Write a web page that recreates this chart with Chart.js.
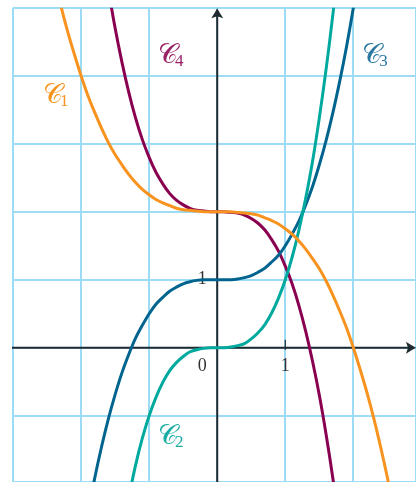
<!DOCTYPE html>
<html>
<head>
<meta charset="utf-8">
<script src="https://cdn.jsdelivr.net/npm/chart.js@4/dist/chart.umd.min.js"></script>
<style>
html,body{margin:0;padding:0;background:#fff;}
#wrap{width:416px;height:482px;}
</style>
</head>
<body>
<div id="wrap"><canvas id="c" width="416" height="482"></canvas></div>
<script>
// ---- data ----
const xC1 = [-2.4,-2.3,-2.2,-2.1,-2.0,-1.9,-1.8,-1.7,-1.6,-1.5,-1.4,-1.3,-1.2,-1.1,-1.0,-0.9,-0.8,-0.7,-0.6,-0.5,-0.4,-0.3,-0.2,-0.1,0,0.1,0.2,0.3,0.4,0.5,0.6,0.7,0.8,0.9,1.0,1.1,1.2,1.3,1.4,1.5,1.6,1.7,1.8,1.9,2.0,2.1,2.2,2.3,2.4,2.5,2.6];
const yC1 = [5.46,5.04,4.66,4.32,4.00,3.71,3.46,3.23,3.02,2.84,2.69,2.55,2.43,2.33,2.25,2.18,2.13,2.09,2.05,2.03,2.02,2.01,2.00,2.00,2.00,2.00,2.00,1.99,1.98,1.97,1.95,1.91,1.87,1.82,1.75,1.67,1.57,1.45,1.31,1.16,0.98,0.77,0.54,0.29,0.00,-0.32,-0.66,-1.04,-1.46,-1.91,-2.39];

const xC2 = [-1.3,-1.2,-1.1,-1.0,-0.9,-0.8,-0.7,-0.6,-0.5,-0.4,-0.3,-0.2,-0.1,0,0.1,0.2,0.3,0.4,0.5,0.6,0.7,0.8,0.9,1.0,1.1,1.2,1.3,1.4,1.5,1.6,1.7,1.8];
const yC2 = [-2.20,-1.73,-1.33,-1.00,-0.73,-0.51,-0.34,-0.22,-0.13,-0.06,-0.03,-0.01,0.00,0.00,0.00,0.01,0.03,0.06,0.13,0.22,0.34,0.51,0.73,1.00,1.33,1.73,2.20,2.74,3.38,4.10,4.91,5.83];

const xC3 = [-1.9,-1.8,-1.7,-1.6,-1.5,-1.4,-1.3,-1.2,-1.1,-1.0,-0.9,-0.8,-0.7,-0.6,-0.5,-0.4,-0.3,-0.2,-0.1,0,0.1,0.2,0.3,0.4,0.5,0.6,0.7,0.8,0.9,1.0,1.1,1.2,1.3,1.4,1.5,1.6,1.7,1.8,1.9,2.0,2.1];
const yC3 = [-2.43,-1.92,-1.46,-1.05,-0.69,-0.37,-0.10,0.14,0.33,0.50,0.64,0.74,0.83,0.89,0.94,0.97,0.99,1.00,1.00,1.00,1.00,1.00,1.01,1.03,1.06,1.11,1.17,1.26,1.36,1.50,1.67,1.86,2.10,2.37,2.69,3.05,3.46,3.92,4.43,5.00,5.63];

const xC4 = [-1.7,-1.6,-1.5,-1.4,-1.3,-1.2,-1.1,-1.0,-0.9,-0.8,-0.7,-0.6,-0.5,-0.4,-0.3,-0.2,-0.1,0,0.1,0.2,0.3,0.4,0.5,0.6,0.7,0.8,0.9,1.0,1.1,1.2,1.3,1.4,1.5,1.6,1.7,1.8];
const yC4 = [5.93,5.28,4.70,4.20,3.76,3.38,3.06,2.80,2.58,2.41,2.27,2.17,2.10,2.05,2.02,2.01,2.00,2.00,2.00,1.99,1.98,1.95,1.90,1.83,1.73,1.59,1.42,1.20,0.94,0.62,0.24,-0.20,-0.70,-1.28,-1.93,-2.67];

const curveNames = ['1','2','3','4'];
const labelX = [-2.37,-0.68,2.32,-0.68];
const labelY = [3.72,-1.30,4.30,4.30];
const tickLabelsX = ['0','1'];
const tickLabelsY = ['1'];

// ---- styles ----
const colors = ['#F7931E','#00A99D','#00648F','#8A0050'];
const labelColors = ['#F7931E','#1AADA3','#2A78A0','#9A2065'];
const gridColor = '#9CDCF4';
const axisColor = '#1F2A30';

function pts(xs, ys){ return xs.map((x,i)=>({x:x,y:ys[i]})); }

const datasets = [
  {data: pts(xC1,yC1)},
  {data: pts(xC2,yC2)},
  {data: pts(xC3,yC3)},
  {data: pts(xC4,yC4)}
].map((d,i)=>Object.assign(d,{
  showLine:true, borderColor:colors[i], borderWidth:3, pointRadius:0,
  tension:0.3, fill:false, clip:0, borderCapStyle:'round'
}));

function arrow(ctx, x, y, dir){
  ctx.save();
  ctx.translate(x,y);
  ctx.rotate(dir);
  ctx.beginPath();
  ctx.moveTo(0,0);
  ctx.quadraticCurveTo(-4,2,-10,6);
  ctx.lineTo(-8,0);
  ctx.lineTo(-10,-6);
  ctx.quadraticCurveTo(-4,-2,0,0);
  ctx.closePath();
  ctx.fillStyle = axisColor;
  ctx.fill();
  ctx.restore();
}

const axesPlugin = {
  id:'axes',
  beforeDatasetsDraw(chart){
    const ctx = chart.ctx, xs = chart.scales.x, ys = chart.scales.y;
    const x0 = xs.getPixelForValue(0), y0 = ys.getPixelForValue(0);
    ctx.save();
    ctx.strokeStyle = axisColor; ctx.lineWidth = 2;
    ctx.beginPath();
    ctx.moveTo(chart.chartArea.left-1, y0); ctx.lineTo(chart.width-3, y0);
    ctx.moveTo(x0, chart.height); ctx.lineTo(x0, ys.getPixelForValue(5)+3);
    ctx.stroke();
    arrow(ctx, chart.width, y0, 0);
    arrow(ctx, x0, ys.getPixelForValue(5)+0.5, -Math.PI/2);
    // tick at x=1
    const x1 = xs.getPixelForValue(1);
    ctx.lineWidth = 1.2;
    ctx.beginPath(); ctx.moveTo(x1, y0-8); ctx.lineTo(x1, y0+2); ctx.stroke();
    // tick labels
    ctx.fillStyle = '#333';
    ctx.font = '18px "Liberation Serif", "DejaVu Serif", serif';
    ctx.textAlign = 'center'; ctx.textBaseline = 'middle';
    ctx.fillText(tickLabelsX[0], x0-15, y0+19);
    ctx.fillText(tickLabelsX[1], x1, y0+19);
    ctx.fillText(tickLabelsY[0], x0-15, ys.getPixelForValue(1));
    ctx.restore();
  },
  afterDatasetsDraw(chart){
    const ctx = chart.ctx, xs = chart.scales.x, ys = chart.scales.y;
    ctx.save();
    ctx.textBaseline = 'alphabetic';
    curveNames.forEach((n,i)=>{
      const px = xs.getPixelForValue(labelX[i]), py = ys.getPixelForValue(labelY[i]);
      ctx.fillStyle = labelColors[i];
      ctx.font = '27px "DejaVu Serif", "Liberation Serif", serif';
      ctx.textAlign = 'left';
      const s = '\u{1D49E}';
      const w = ctx.measureText(s).width;
      ctx.fillText(s, px-13, py+8);
      ctx.font = '17px "Liberation Serif", "DejaVu Serif", serif';
      ctx.fillText(n, px-13+w-3, py+11);
    });
    ctx.restore();
  }
};

new Chart(document.getElementById('c'), {
  type:'scatter',
  data:{datasets:datasets},
  options:{
    responsive:false, animation:false, devicePixelRatio:1,
    layout:{padding:{left:13, top:7.7, right:0, bottom:0}},
    plugins:{legend:{display:false}, tooltip:{enabled:false}},
    scales:{
      x:{type:'linear', min:-3, max:2.92,
         ticks:{display:false, stepSize:1},
         grid:{color:gridColor, lineWidth:2, drawTicks:false},
         border:{display:false},
         afterFit(s){ s.height = 0; }},
      y:{type:'linear', min:-1.975, max:5,
         ticks:{display:false, stepSize:1},
         grid:{color:gridColor, lineWidth:2, drawTicks:false},
         border:{display:false},
         afterFit(s){ s.width = 0; }}
    }
  },
  plugins:[axesPlugin]
});
</script>
</body>
</html>
